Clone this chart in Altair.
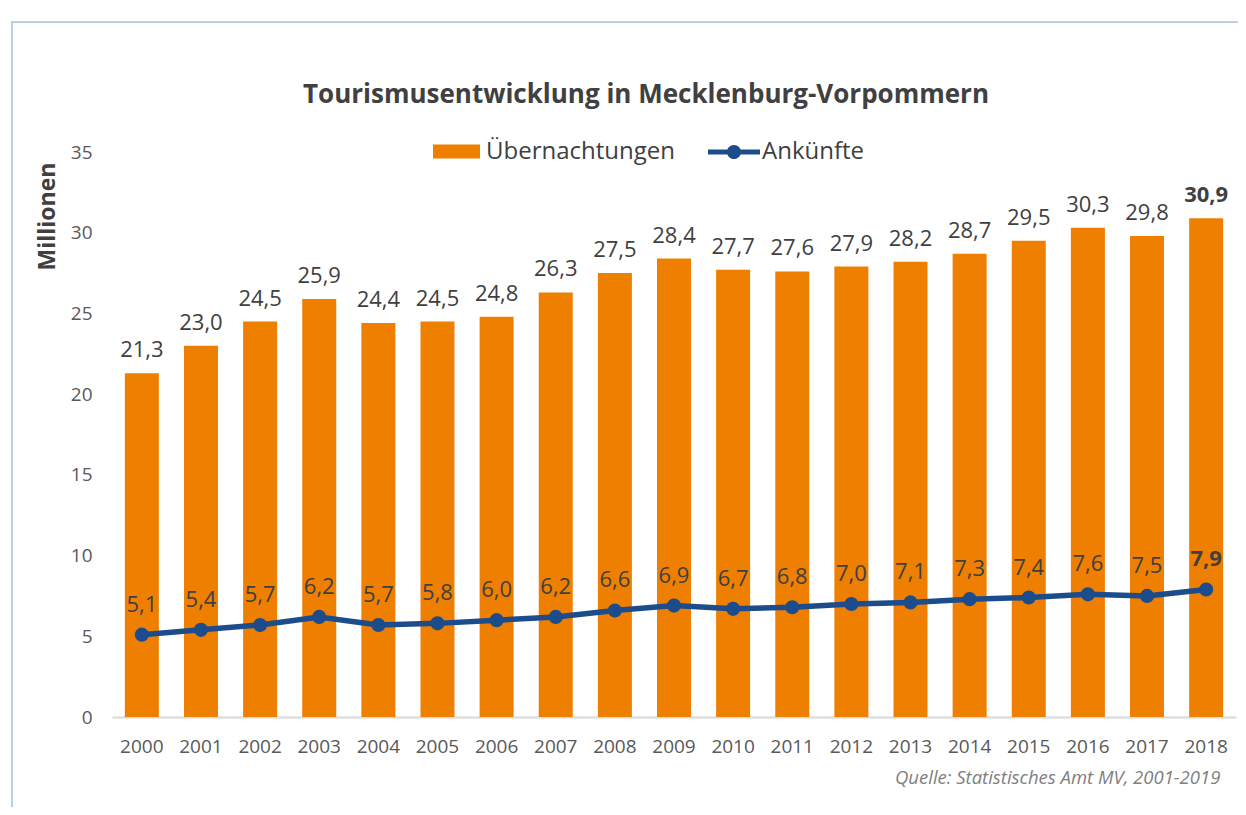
import altair as alt
import pandas as pd

years = [str(y) for y in range(2000, 2019)]
uebernachtungen = [21.3, 23.0, 24.5, 25.9, 24.4, 24.5, 24.8, 26.3, 27.5, 28.4,
                   27.7, 27.6, 27.9, 28.2, 28.7, 29.5, 30.3, 29.8, 30.9]
ankuenfte = [5.1, 5.4, 5.7, 6.2, 5.7, 5.8, 6.0, 6.2, 6.6, 6.9,
             6.7, 6.8, 7.0, 7.1, 7.3, 7.4, 7.6, 7.5, 7.9]
y_ticks = [0, 5, 10, 15, 20, 25, 30, 35]
title_text = "Tourismusentwicklung in Mecklenburg-Vorpommern"
source_text = "Quelle: Statistisches Amt MV, 2001-2019"

ORANGE = "#EE7F00"
BLUE = "#1C4C8C"
TXT = "#404040"
FONT = "Open Sans"

df = pd.DataFrame({
    "Jahr": years,
    "Uebernachtungen": uebernachtungen,
    "Ankuenfte": ankuenfte,
})
df["lab_u"] = [f"{v:.1f}".replace(".", ",") for v in df["Uebernachtungen"]]
df["lab_a"] = [f"{v:.1f}".replace(".", ",") for v in df["Ankuenfte"]]
df["serie_u"] = "Übernachtungen"
df["serie_a"] = "Ankünfte"

base = alt.Chart(df)

xenc = alt.X("Jahr:N", title=None,
             scale=alt.Scale(paddingInner=0.43, paddingOuter=0.22),
             axis=alt.Axis(labelAngle=0, labelFontSize=19, labelColor="#595959",
                           labelFont=FONT, ticks=False, domainColor="#d9d9d9",
                           domainWidth=2, labelPadding=20))
yscale = alt.Scale(domain=[0, 35])

bars = base.mark_bar(size=34).encode(
    x=xenc,
    y=alt.Y("Uebernachtungen:Q", scale=yscale,
            axis=alt.Axis(values=y_ticks, title="Millionen", grid=False, domain=False,
                          ticks=False, labelFontSize=19, labelColor="#595959",
                          labelFont=FONT, labelPadding=20,
                          titleFont=FONT, titleFontSize=23, titleFontWeight="bold",
                          titleColor=TXT, titleAngle=270, titleX=-65, titleY=64,
                          titleAlign="center", titleBaseline="middle")),
    fill=alt.Fill("serie_u:N", scale=alt.Scale(domain=["Übernachtungen"], range=[ORANGE]),
                  legend=alt.Legend(title=None, orient="none", legendX=321, legendY=-24,
                                    symbolType="M-1,-0.3H1V0.3H-1Z", symbolSize=2209,
                                    symbolStrokeWidth=0, labelFontSize=24, labelFont=FONT,
                                    labelColor=TXT, labelOffset=6, labelLimit=0)),
)

lab_kw = dict(fontSize=22, font=FONT, color=TXT, baseline="middle")
bar_lab = base.mark_text(dy=-23, **lab_kw).encode(
    x="Jahr:N", y=alt.Y("Uebernachtungen:Q", scale=yscale), text="lab_u:N"
).transform_filter("datum.Jahr != '2018'")
bar_lab_b = base.mark_text(dy=-23, fontWeight="bold", **lab_kw).encode(
    x="Jahr:N", y=alt.Y("Uebernachtungen:Q", scale=yscale), text="lab_u:N"
).transform_filter("datum.Jahr == '2018'")

line = base.mark_line(strokeWidth=5.5).encode(
    x="Jahr:N", y=alt.Y("Ankuenfte:Q", scale=yscale),
    stroke=alt.Stroke("serie_a:N", scale=alt.Scale(domain=["Ankünfte"], range=[BLUE]),
                      legend=alt.Legend(title=None, orient="none", legendX=596, legendY=-26,
                                        symbolType="M-1,-0.1H-0.2V0.1H-1Z M0.2,-0.1H1V0.1H0.2Z M-0.27,0A0.27,0.27 0 1,1 0.27,0A0.27,0.27 0 1,1 -0.27,0Z",
                                        symbolSize=2704, symbolStrokeWidth=0,
                                        symbolFillColor=BLUE, labelFontSize=24,
                                        labelFont=FONT, labelColor=TXT, labelOffset=2,
                                        labelLimit=0)),
)
pts = base.mark_circle(size=200, opacity=1, color=BLUE).encode(
    x="Jahr:N", y=alt.Y("Ankuenfte:Q", scale=yscale)
)
line_lab = base.mark_text(dy=-30, **lab_kw).encode(
    x="Jahr:N", y=alt.Y("Ankuenfte:Q", scale=yscale), text="lab_a:N"
).transform_filter("datum.Jahr != '2018'")
line_lab_b = base.mark_text(dy=-30, fontWeight="bold", **lab_kw).encode(
    x="Jahr:N", y=alt.Y("Ankuenfte:Q", scale=yscale), text="lab_a:N"
).transform_filter("datum.Jahr == '2018'")

one = alt.Chart(pd.DataFrame({"k": [0]}))
frame = one.mark_rect(fill=None, stroke="#b8d0e8", strokeWidth=2).encode(
    x=alt.value(-100), x2=alt.value(1400), y=alt.value(-130), y2=alt.value(900)
)
title = one.mark_text(fontSize=26, font=FONT, fontWeight="bold", color=TXT,
                      align="center", baseline="middle").encode(
    x=alt.value(534), y=alt.value(-57), text=alt.value(title_text)
)
source = one.mark_text(fontSize=18.5, font=FONT, fontStyle="italic", color="#7f7f7f",
                       align="left", baseline="middle").encode(
    x=alt.value(783), y=alt.value(626), text=alt.value(source_text)
)

chart = alt.layer(frame, title, bars, bar_lab, bar_lab_b, line, pts, line_lab, line_lab_b, source).resolve_scale(
    fill="independent", stroke="independent"
).properties(
    width=1124, height=565,
    padding={"left": 104, "top": 144, "right": 2, "bottom": 90},
    autosize=alt.AutoSizeParams(type="none"),
).configure_view(stroke=None)

chart.save("out.html", embed_options={"renderer": "svg", "actions": False})
